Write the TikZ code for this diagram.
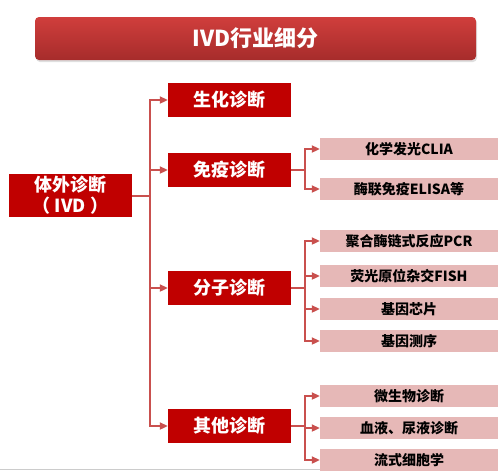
\documentclass[tikz,border=0pt]{standalone}
\usepackage{fontspec}
\setmainfont{Noto Sans CJK SC}
\usetikzlibrary{arrows.meta,shadows}
\definecolor{darkred}{HTML}{C00000}
\definecolor{pinkbox}{HTML}{E6B8B7}
\definecolor{linkred}{HTML}{C9504E}
\definecolor{titletop}{HTML}{D03E3C}
\definecolor{titlebot}{HTML}{A62C2B}
\begin{document}
\begin{tikzpicture}[x=1pt,y=-1pt,
  lvlone/.style={fill=darkred,text=white,font=\fontsize{18}{21}\selectfont\bfseries,minimum width=123pt,minimum height=34pt,inner sep=0pt},
  lvltwo/.style={fill=pinkbox,text=black,font=\fontsize{14}{16}\selectfont\bfseries,minimum width=178pt,minimum height=22pt,inner sep=0pt},
  link/.style={draw=linkred,line width=2pt},
  arr/.style={link,-{Triangle[length=8pt,width=7pt]}}]
\useasboundingbox (0,0) rectangle (503,474);
\fill[white] (0,0) rectangle (503,474);
% footer line
\draw[draw=black!20,line width=1pt] (0,469.5) -- (320,469.5);
% title
\node[rounded corners=4pt,top color=titletop,bottom color=titlebot,drop shadow={opacity=0.25,shadow xshift=1pt,shadow yshift=-2pt},
  minimum width=441pt,minimum height=43pt,text=white,font=\fontsize{22}{25}\selectfont\bfseries] (title) at (255.5,38.5) {IVD行业细分};
% root
\node[fill=darkred,text=white,font=\fontsize{18}{21}\selectfont\bfseries,minimum width=123pt,minimum height=43pt,inner sep=0pt,align=center] (root) at (70.5,195.5) {体外诊断\\（ IVD ）};
% level one
\node[lvlone] (bio) at (229.5,100) {生化诊断};
\node[lvlone] (imm) at (229.5,170) {免疫诊断};
\node[lvlone] (mol) at (229.5,288) {分子诊断};
\node[lvlone] (oth) at (229.5,426) {其他诊断};
% level two
\node[lvltwo] (clia) at (409,149) {化学发光CLIA};
\node[lvltwo] (elisa) at (409,189) {酶联免疫ELISA等};
\node[lvltwo] (pcr) at (409,241) {聚合酶链式反应PCR};
\node[lvltwo] (fish) at (409,276) {荧光原位杂交FISH};
\node[lvltwo] (chip) at (409,309) {基因芯片};
\node[lvltwo] (seq) at (409,341) {基因测序};
\node[lvltwo] (micro) at (409,396) {微生物诊断};
\node[lvltwo] (blood) at (409,428) {血液、尿液诊断};
\node[lvltwo] (flow) at (409,460) {流式细胞学};
% trunk
\coordinate (t) at (150,196);
\draw[link] (root.east |- t) -- (t);
\draw[arr] (t) |- (bio.west);
\draw[arr] (t) |- (imm.west);
\draw[arr] (t) |- (mol.west);
\draw[arr] (t) |- (oth.west);
% immune branch
\coordinate (bi) at (305,170);
\draw[link] (imm.east) -- (bi);
\draw[arr] (bi) |- (clia.west);
\draw[arr] (bi) |- (elisa.west);
% molecular branch
\coordinate (bm) at (305,288);
\draw[link] (mol.east) -- (bm);
\draw[arr] (bm) |- (pcr.west);
\draw[arr] (bm) |- (fish.west);
\draw[arr] (bm) |- (chip.west);
\draw[arr] (bm) |- (seq.west);
% other branch
\coordinate (bo) at (305,426);
\draw[link] (oth.east) -- (bo);
\draw[arr] (bo) |- (micro.west);
\draw[arr] (bo) |- (blood.west);
\draw[arr] (bo) |- (flow.west);
\end{tikzpicture}
\end{document}
